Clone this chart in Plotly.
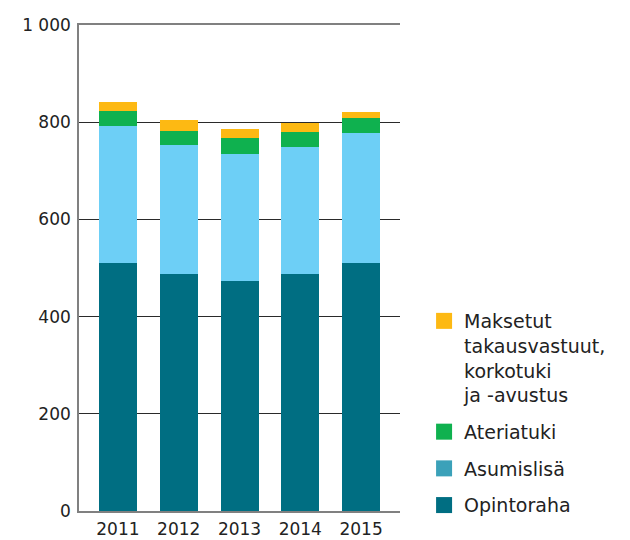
import plotly.graph_objects as go

years = ["2011", "2012", "2013", "2014", "2015"]
opintoraha = [511, 487, 474, 487, 511]
asumislisa = [282, 267, 261, 262, 267]
ateriatuki = [30, 28, 33, 31, 31]
maksetut = [19, 23, 18, 19, 12]

y_tickvals = [0, 200, 400, 600, 800, 1000]
y_ticktext = ["0", "200", "400", "600", "800", "1 000"]

names = ["Opintoraha", "Asumislisä", "Ateriatuki",
         "Maksetut<br>takausvastuut,<br>korkotuki<br>ja -avustus"]
bar_colors = ["#006e82", "#6dcff6", "#0fb14f", "#fdb913"]
legend_colors = ["#006e82", "#3ba1b9", "#0fb14f", "#fdb913"]
series = [opintoraha, asumislisa, ateriatuki, maksetut]

FONT = "DejaVu Sans"

fig = go.Figure()
for vals, col, nm in zip(series, bar_colors, names):
    fig.add_trace(go.Bar(x=years, y=vals, marker=dict(color=col, line=dict(width=0)),
                         width=0.625, showlegend=False, name=nm))

# legend entries, top item first
for i, (col, nm) in enumerate(zip(legend_colors[::-1], names[::-1])):
    fig.add_trace(go.Scatter(x=[None], y=[None], mode="markers", name=nm,
                             legendgroup="g%d" % i,
                             marker=dict(symbol="square", size=16, color=col)))

fig.update_layout(
    template="none",
    barmode="stack",
    width=630, height=540,
    margin=dict(l=71, r=238, t=17, b=37),
    paper_bgcolor="white", plot_bgcolor="white",
    font=dict(family=FONT, color="#222222"),
    showlegend=True,
    legend=dict(
        x=1.075, xanchor="left", y=0.43, yanchor="top",
        traceorder="grouped", valign="top",
        tracegroupgap=9,
        font=dict(family=FONT, size=19, color="#222222"),
        bgcolor="rgba(0,0,0,0)", borderwidth=0,
    ),
    xaxis=dict(
        type="category", range=[-0.64, 4.64],
        showline=True, linecolor="#808080", linewidth=1.6, mirror=True,
        showgrid=False, zeroline=False, ticks="outside", ticklen=2,
        tickcolor="rgba(0,0,0,0)",
        tickfont=dict(family=FONT, size=17, color="#222222"),
        automargin=False,
    ),
    yaxis=dict(
        range=[0, 1000], tickvals=y_tickvals, ticktext=y_ticktext,
        showline=True, linecolor="#808080", linewidth=1.6,
        showgrid=True, gridcolor="#2a2a2a", gridwidth=1.2, zeroline=False,
        ticks="outside", ticklen=3, tickcolor="rgba(0,0,0,0)",
        tickfont=dict(family=FONT, size=17, color="#222222"),
        automargin=False,
    ),
)

fig.write_html("out.html")
